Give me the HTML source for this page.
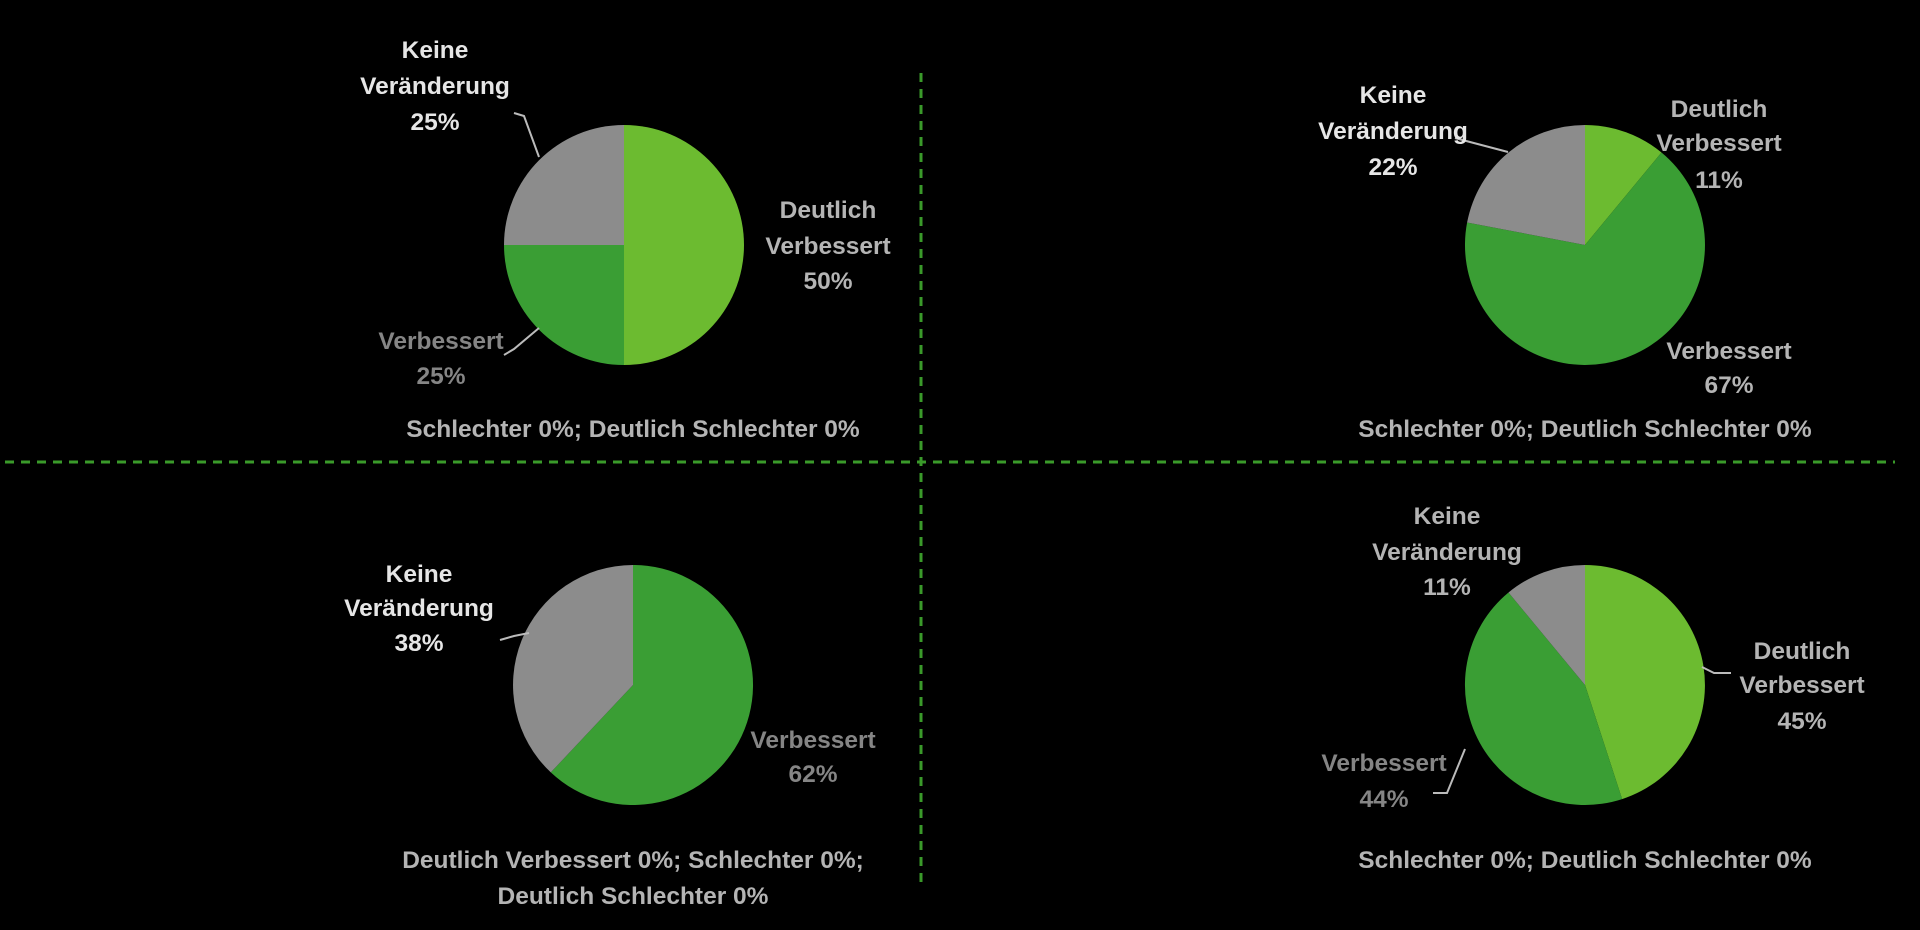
<!DOCTYPE html>
<html><head><meta charset="utf-8"><style>
html,body{margin:0;padding:0;background:#000;}
svg{display:block}
text{font-family:"Liberation Sans",sans-serif;font-weight:bold;font-size:24.5px;text-anchor:middle}
.w{fill:#e6e6e6}.g{fill:#b4b4b4}.d{fill:#858585}
.l{stroke:#bbb;stroke-width:2;fill:none}
</style></head><body>
<svg width="1920" height="930" viewBox="0 0 1920 930">
<rect width="1920" height="930" fill="#000"/>
<line x1="5" y1="462" x2="1895" y2="462" stroke="#3a9a2a" stroke-width="3" stroke-dasharray="9,7"/>
<line x1="921" y1="73" x2="921" y2="884" stroke="#3a9a2a" stroke-width="3" stroke-dasharray="9,7"/>

<!-- TL -->
<path d="M624,245 L624,125 A120,120 0 0,1 624,365 Z" fill="#6cbb30"/>
<path d="M624,245 L624,365 A120,120 0 0,1 504,245 Z" fill="#3a9e34"/>
<path d="M624,245 L504,245 A120,120 0 0,1 624,125 Z" fill="#8c8c8c"/>
<polyline class="l" points="514,113 524,116 539,157"/>
<polyline class="l" points="504,355 514,349 539,328"/>
<text class="w" x="435" y="58">Keine</text><text class="w" x="435" y="94">Veränderung</text><text class="w" x="435" y="130">25%</text>
<text class="g" x="828" y="218">Deutlich</text><text class="g" x="828" y="254">Verbessert</text><text class="g" x="828" y="289">50%</text>
<text class="d" x="441" y="349">Verbessert</text><text class="d" x="441" y="384">25%</text>
<text class="g" x="633" y="437">Schlechter 0%; Deutlich Schlechter 0%</text>

<!-- TR -->
<path d="M1585,245 L1585,125 A120,120 0 0,1 1661.5,152.5 Z" fill="#6cbb30"/>
<path d="M1585,245 L1661.5,152.5 A120,120 0 1,1 1467.1,222.5 Z" fill="#3a9e34"/>
<path d="M1585,245 L1467.1,222.5 A120,120 0 0,1 1585,125 Z" fill="#8c8c8c"/>
<polyline class="l" points="1455,138 1470,142 1508,152"/>
<text class="w" x="1393" y="103">Keine</text><text class="w" x="1393" y="139">Veränderung</text><text class="w" x="1393" y="175">22%</text>
<text class="g" x="1719" y="117">Deutlich</text><text class="g" x="1719" y="151">Verbessert</text><text class="g" x="1719" y="188">11%</text>
<text class="g" x="1729" y="359">Verbessert</text><text class="g" x="1729" y="393">67%</text>
<text class="g" x="1585" y="437">Schlechter 0%; Deutlich Schlechter 0%</text>

<!-- BL -->
<path d="M633,685 L633,565 A120,120 0 1,1 550.8,772.4 Z" fill="#3a9e34"/>
<path d="M633,685 L550.8,772.4 A120,120 0 0,1 633,565 Z" fill="#8c8c8c"/>
<polyline class="l" points="500,640 514,636 529,633"/>
<text class="w" x="419" y="582">Keine</text><text class="w" x="419" y="616">Veränderung</text><text class="w" x="419" y="651">38%</text>
<text class="d" x="813" y="748">Verbessert</text><text class="d" x="813" y="782">62%</text>
<text class="g" x="633" y="868">Deutlich Verbessert 0%; Schlechter 0%;</text>
<text class="g" x="633" y="904">Deutlich Schlechter 0%</text>

<!-- BR -->
<path d="M1585,685 L1585,565 A120,120 0 0,1 1622.1,799.1 Z" fill="#6cbb30"/>
<path d="M1585,685 L1622.1,799.1 A120,120 0 0,1 1508.5,592.5 Z" fill="#3a9e34"/>
<path d="M1585,685 L1508.5,592.5 A120,120 0 0,1 1585,565 Z" fill="#8c8c8c"/>
<polyline class="l" points="1702,667 1714,673 1731,673"/>
<polyline class="l" points="1433,793 1447,793 1465,749"/>
<text class="g" x="1447" y="524">Keine</text><text class="g" x="1447" y="560">Veränderung</text><text class="g" x="1447" y="595">11%</text>
<text class="g" x="1802" y="659">Deutlich</text><text class="g" x="1802" y="693">Verbessert</text><text class="g" x="1802" y="729">45%</text>
<text class="d" x="1384" y="771">Verbessert</text><text class="d" x="1384" y="807">44%</text>
<text class="g" x="1585" y="868">Schlechter 0%; Deutlich Schlechter 0%</text>
</svg>
</body></html>
